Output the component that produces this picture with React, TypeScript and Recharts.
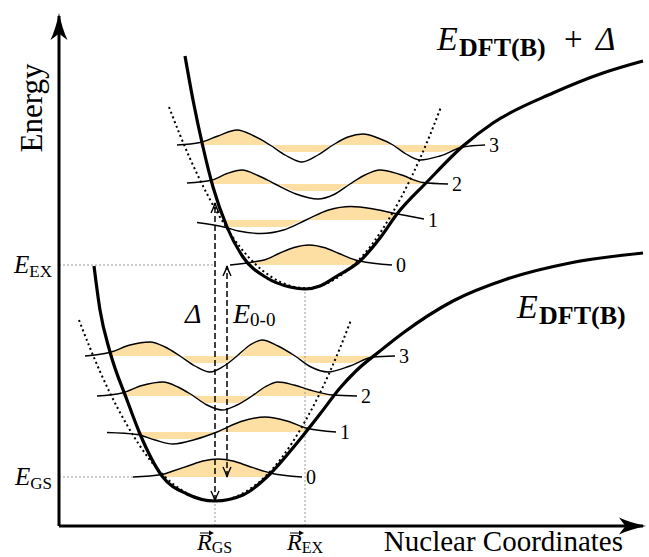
import React from 'react';
import { ComposedChart, Line, Area, XAxis, YAxis, ReferenceLine, ReferenceDot } from 'recharts';

const FONT = '"Liberation Serif", "Times New Roman", serif';
const ORANGE = '#fddfa4';
const BAND = 7;

// x = nuclear coordinate, y = energy (arbitrary units, origin at the axes corner)
const R_GS = 156;
const R_EX = 246;
const E_GS = 49;
const E_EX = 261;
const GS_MIN = 25;
const EX_MIN = 237;
const DELTA_TOP = 323;
const E00_TOP = 260;
const coordTicks = [R_GS, R_EX];
const energyTicks = [E_GS, E_EX];

// potential energy curves
const groundPES = [[35, 260], [41, 216], [51, 174], [68, 126], [81, 92], [103, 50], [128, 32], [156, 25], [184, 31], [211, 52], [238, 83], [261, 112], [281, 138], [298, 156], [321, 175], [344, 193], [394, 225], [448, 247], [511, 263], [584, 273]];
const excitedPES = [[126, 470], [134, 426], [144, 379], [154, 339], [168, 299], [184, 269], [208, 248], [231, 239], [246, 237], [261, 240], [278, 250], [301, 265], [321, 288], [338, 312], [368, 344], [404, 380], [434, 403], [494, 433], [544, 453], [584, 465]];

// harmonic approximations (dotted)
const groundHarm = [[20, 206], [31, 178], [51, 133], [68, 101], [91, 66], [121, 37], [156, 25], [191, 37], [221, 66], [244, 101], [261, 133], [281, 178], [292, 206]];
const excitedHarm = [[110, 419], [121, 391], [141, 346], [158, 314], [181, 279], [211, 250], [246, 238], [281, 250], [311, 279], [334, 314], [351, 346], [371, 391], [382, 419]];

// vibrational wavefunctions, drawn on top of their levels
const gsV0 = [[74, 49], [103, 51.5], [114, 55], [129, 60], [144, 65], [159, 67], [174, 65], [189, 60], [204, 55], [211, 53], [243, 49]];
const gsV1 = [[48, 93.5], [78, 91.5], [96, 86], [114, 82], [136, 86.5], [158, 94], [182, 104.5], [206, 109], [228, 105], [247, 98], [277, 94]];
const gsV2 = [[38, 130], [63, 133], [83, 140.5], [104, 144], [119, 139], [133, 131], [148, 121], [163, 116], [178, 121], [193, 130], [206, 139], [219, 144], [235, 141], [251, 136], [274, 131], [298, 130]];
const gsV3 = [[26, 170], [52, 174], [71, 181], [91, 184], [106, 179], [121, 170], [136, 160], [151, 154], [165, 160], [178, 170], [191, 181], [203, 186], [219, 180], [236, 170], [252, 159], [269, 154], [291, 160], [314, 169], [336, 170]];

const exV0 = [[171, 261], [194, 264], [205, 266], [220, 272.5], [235, 278.5], [250, 281], [265, 278.5], [280, 272.5], [295, 266.5], [301, 265], [333, 261]];
const exV1 = [[138, 303.5], [167, 298.5], [179.5, 295], [202, 292.5], [224.5, 296], [247, 306], [269.5, 316], [292, 319.5], [314.5, 317], [336, 312.5], [365, 307]];
const exV2 = [[128, 343], [153, 346], [168, 352.5], [183, 356], [199, 350.5], [216, 342], [237, 332], [259, 327], [275, 331.5], [291, 342], [306, 351], [321, 356], [341, 351.5], [364, 343.5], [389, 342]];
const exV3 = [[118, 381], [141, 383.5], [159, 390], [178, 396], [195, 390], [211, 381], [227, 370.5], [243, 364], [259, 371], [274, 381], [289, 389], [304, 392], [319, 388], [334, 381], [347, 372], [361, 366], [381, 370], [404, 379], [426, 381]];

const gsLevels = [49, 94, 130, 170];
const exLevels = [261, 306, 342, 381];
// where each level meets the walls of its well (shading is kept inside)
const gsWalls = [[103, 211], [78, 247], [63, 274], [52, 314]];
const exWalls = [[194, 301], [167, 336], [153, 364], [141, 404]];
const gsWaves = [gsV0, gsV1, gsV2, gsV3];
const exWaves = [exV0, exV1, exV2, exV3];

const toPts = (arr: number[][]) => arr.map(([x, y]) => ({ x, y }));

const waves = [
  ...gsWaves.map((pts, i) => ({ pts, level: gsLevels[i], walls: gsWalls[i], n: i })),
  ...exWaves.map((pts, i) => ({ pts, level: exLevels[i], walls: exWalls[i], n: i })),
];

const bandOf = (w: any) =>
  w.pts
    .filter(([x]: number[]) => x >= w.walls[0] && x <= w.walls[1])
    .map(([x, y]: number[]) => {
      const psi = y - w.level;
      return { x, band: [w.level + Math.max(Math.min(psi, 0), -BAND), w.level + Math.max(psi, 0)] };
    });

const AxisHead = ({ cx, cy, rot }: any) => (
  <path transform={`translate(${cx},${cy}) rotate(${rot})`} d="M0,-3 Q-3,12 -8.5,24 Q0,18 0,17 Q0,18 8.5,24 Q3,12 0,-3 Z" fill="#000" />
);

const SmallHead = ({ cx, cy, up }: any) => {
  const s = up ? 1 : -1;
  return <path d={`M${cx - 4},${cy + 10 * s} Q${cx - 1},${cy + 4 * s} ${cx},${cy} Q${cx + 1},${cy + 4 * s} ${cx + 4},${cy + 10 * s}`} stroke="#000" strokeWidth={1.4} fill="none" />;
};

const YTick = ({ x, y, payload }: any) => (
  <text x={x - 7} y={y + 8} textAnchor="end" fontFamily={FONT} fill="#000">
    <tspan fontStyle="italic" fontSize={25}>E</tspan>
    <tspan fontSize={17} dy={4}>{payload.value === E_GS ? 'GS' : 'EX'}</tspan>
  </text>
);

const XTick = ({ x, y, payload }: any) => (
  <g>
    <path d={`M${x - 15},${y + 7} H${x - 3}`} stroke="#000" strokeWidth={1} />
    <path d={`M${x - 1},${y + 7} L${x - 6},${y + 4.5} L${x - 6},${y + 9.5} Z`} fill="#000" />
    <text x={x - 18} y={y + 24} fontFamily={FONT} fill="#000">
      <tspan fontStyle="italic" fontSize={24}>R</tspan>
      <tspan fontSize={16} dy={3}>{payload.value === R_GS ? 'GS' : 'EX'}</tspan>
    </text>
  </g>
);

const yLabel = ({ viewBox }: any) => (
  <text transform={`translate(${viewBox.x + 42},${viewBox.y + 92}) rotate(-90)`} textAnchor="middle" fontFamily={FONT} fontSize={31} fill="#000">Energy</text>
);

const xLabel = ({ viewBox }: any) => (
  <text x={viewBox.x + viewBox.width - 20} y={viewBox.y + 25} textAnchor="end" fontFamily={FONT} fontSize={29} fill="#000">Nuclear Coordinates</text>
);

const upperTitle = ({ cx, cy }: any) => (
  <g fontFamily={FONT} fill="#000">
    <text x={cx} y={cy} fontSize={34} fontStyle="italic">E</text>
    <text x={cx + 22} y={cy + 6} fontSize={26} fontWeight="bold">DFT(B)</text>
    <text x={cx + 127} y={cy} fontSize={33}>+</text>
    <text x={cx + 159} y={cy} fontSize={33} fontStyle="italic">Δ</text>
  </g>
);

const lowerTitle = ({ cx, cy }: any) => (
  <g fontFamily={FONT} fill="#000">
    <text x={cx} y={cy} fontSize={34} fontStyle="italic">E</text>
    <text x={cx + 22} y={cy + 6} fontSize={26} fontWeight="bold">DFT(B)</text>
  </g>
);

const deltaLabel = ({ cx, cy }: any) => (
  <text x={cx} y={cy} fontFamily={FONT} fontSize={28} fontStyle="italic" fill="#000">Δ</text>
);

const e00Label = ({ cx, cy }: any) => (
  <text x={cx} y={cy} fontFamily={FONT} fill="#000">
    <tspan fontSize={28} fontStyle="italic">E</tspan>
    <tspan fontSize={19} dy={3}>0-0</tspan>
  </text>
);

const numLabel = (n: number) => ({ cx, cy }: any) => (
  <text x={cx} y={cy + 7} fontFamily={FONT} fontSize={20} fill="#000">{n}</text>
);

const App = () => (
  <div style={{ position: 'absolute', left: 0, top: 0, width: 649, height: 557, background: '#fff' }}>
    <ComposedChart width={649} height={557} margin={{ top: 16, right: 6, bottom: 0, left: 0 }}>
      <XAxis type="number" dataKey="x" domain={[0, 584]} ticks={coordTicks} interval={0} height={31}
        tickLine={false} tickSize={0} tickMargin={0} tick={<XTick />}
        axisLine={{ stroke: '#000', strokeWidth: 3 }} label={xLabel} />
      <YAxis type="number" domain={[0, 510]} ticks={energyTicks} interval={0} width={59}
        tickLine={false} tickSize={0} tickMargin={0} tick={<YTick />}
        axisLine={{ stroke: '#000', strokeWidth: 3 }} label={yLabel} />

      {waves.map((w, i) => (
        <Area key={`f${i}`} data={bandOf(w)} dataKey="band" type="monotone" fill={ORANGE} fillOpacity={1}
          stroke="none" dot={false} activeDot={false} isAnimationActive={false} />
      ))}

      <ReferenceLine segment={[{ x: 0, y: E_EX }, { x: R_GS, y: E_EX }]} stroke="#999" strokeDasharray="2 2" />
      <ReferenceLine segment={[{ x: 0, y: E_GS }, { x: gsV0[0][0], y: E_GS }]} stroke="#999" strokeDasharray="2 2" />
      <ReferenceLine segment={[{ x: R_GS, y: 0 }, { x: R_GS, y: GS_MIN }]} stroke="#999" strokeDasharray="2 2" />
      <ReferenceLine segment={[{ x: R_EX, y: 0 }, { x: R_EX, y: EX_MIN }]} stroke="#999" strokeDasharray="2 2" />

      <Line data={toPts(groundHarm)} dataKey="y" type="monotone" stroke="#000" strokeWidth={2} strokeDasharray="2 3"
        dot={false} activeDot={false} isAnimationActive={false} />
      <Line data={toPts(excitedHarm)} dataKey="y" type="monotone" stroke="#000" strokeWidth={2} strokeDasharray="2 3"
        dot={false} activeDot={false} isAnimationActive={false} />

      {waves.map((w, i) => (
        <Line key={`w${i}`} data={toPts(w.pts)} dataKey="y" type="monotone" stroke="#000" strokeWidth={1.4}
          dot={false} activeDot={false} isAnimationActive={false} />
      ))}

      <Line data={toPts(groundPES)} dataKey="y" type="monotone" stroke="#000" strokeWidth={3.2}
        dot={false} activeDot={false} isAnimationActive={false} />
      <Line data={toPts(excitedPES)} dataKey="y" type="monotone" stroke="#000" strokeWidth={3.2}
        dot={false} activeDot={false} isAnimationActive={false} />

      <ReferenceLine segment={[{ x: R_GS, y: GS_MIN }, { x: R_GS, y: DELTA_TOP }]} stroke="#000" strokeWidth={1.5} strokeDasharray="6 3" />
      <ReferenceLine segment={[{ x: R_GS + 12, y: E_GS }, { x: R_GS + 12, y: E00_TOP }]} stroke="#000" strokeWidth={1.5} strokeDasharray="6 3" />
      <ReferenceDot x={R_GS} y={DELTA_TOP} shape={(p: any) => <SmallHead cx={p.cx} cy={p.cy} up />} />
      <ReferenceDot x={R_GS} y={GS_MIN} shape={(p: any) => <SmallHead cx={p.cx} cy={p.cy} />} />
      <ReferenceDot x={R_GS + 12} y={E00_TOP} shape={(p: any) => <SmallHead cx={p.cx} cy={p.cy} up />} />
      <ReferenceDot x={R_GS + 12} y={E_GS} shape={(p: any) => <SmallHead cx={p.cx} cy={p.cy} />} />

      <ReferenceDot x={0} y={510} ifOverflow="visible" shape={(p: any) => <AxisHead cx={p.cx} cy={p.cy} rot={0} />} />
      <ReferenceDot x={584} y={0} ifOverflow="visible" shape={(p: any) => <AxisHead cx={p.cx} cy={p.cy} rot={90} />} />

      {waves.map((w, i) => (
        <ReferenceDot key={`n${i}`} x={w.pts[w.pts.length - 1][0] + 4} y={w.level} shape={numLabel(w.n)} />
      ))}

      <ReferenceDot x={378} y={476} shape={upperTitle} />
      <ReferenceDot x={458} y={208} shape={lowerTitle} />
      <ReferenceDot x={126} y={203} shape={deltaLabel} />
      <ReferenceDot x={174} y={203} shape={e00Label} />
    </ComposedChart>
  </div>
);

export default App;
